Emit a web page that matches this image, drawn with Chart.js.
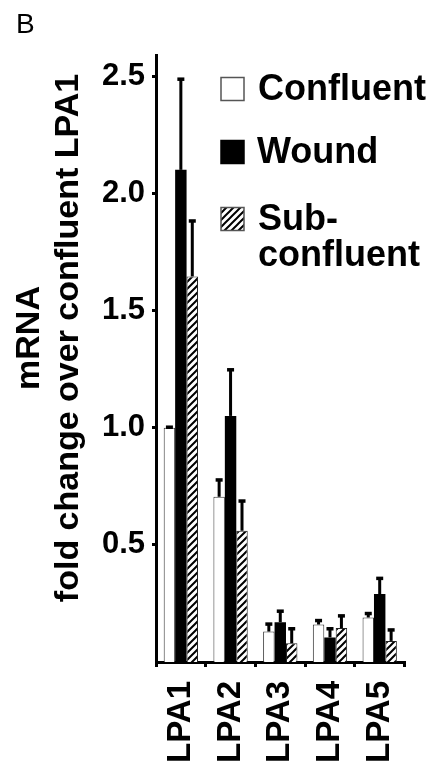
<!DOCTYPE html>
<html>
<head>
<meta charset="utf-8">
<script src="https://cdn.jsdelivr.net/npm/chart.js@4.4.1/dist/chart.umd.min.js"></script>
<style>
  body { margin: 0; background: #fff; }
  #wrap { position: relative; width: 435px; height: 772px; }
</style>
</head>
<body>
<div id="wrap"><canvas id="mrnaChart"></canvas></div>
<script>
// data
const categories = ['LPA1', 'LPA2', 'LPA3', 'LPA4', 'LPA5'];
const confluent = [1.0, 0.705, 0.13, 0.16, 0.19];
const confluentErr = [0.005, 0.075, 0.035, 0.02, 0.02];
const wound = [2.10, 1.05, 0.17, 0.105, 0.29];
const woundErr = [0.39, 0.20, 0.05, 0.04, 0.07];
const subConfluent = [1.645, 0.56, 0.08, 0.145, 0.09];
const subConfluentErr = [0.24, 0.13, 0.065, 0.055, 0.05];
const yTicks = [0.5, 1.0, 1.5, 2.0, 2.5];
const seriesLabels = ['Confluent', 'Wound', 'Sub-\nconfluent'];

const FONT = '"Liberation Sans", Arial, Helvetica, sans-serif';

// diagonal hatch for sub-confluent bars
function makeHatch() {
  const c = document.createElement('canvas');
  c.width = 7; c.height = 7;
  const g = c.getContext('2d');
  g.fillStyle = '#fff';
  g.fillRect(0, 0, 7, 7);
  g.strokeStyle = '#000';
  g.lineWidth = 2;
  g.beginPath();
  g.moveTo(-1, 8); g.lineTo(8, -1);
  g.moveTo(-2, 2); g.lineTo(2, -2);
  g.moveTo(5, 9); g.lineTo(9, 5);
  g.stroke();
  return g.createPattern(c, 'repeat');
}
const hatch = makeHatch();

// upper error bars
const errorBars = {
  id: 'errorBars',
  afterDatasetsDraw(chart) {
    const ctx = chart.ctx;
    const y = chart.scales.y;
    const errs = [confluentErr, woundErr, subConfluentErr];
    ctx.save();
    ctx.fillStyle = '#000';
    chart.data.datasets.forEach((ds, i) => {
      chart.getDatasetMeta(i).data.forEach((bar, j) => {
        const v = ds.data[j];
        const yTop = y.getPixelForValue(v);
        const yErr = y.getPixelForValue(v + errs[i][j]);
        ctx.fillRect(bar.x - 1.5, yErr, 3, yTop - yErr);
        ctx.fillRect(bar.x - 3.5, yErr - 1, 7, 3.5);
      });
    });
    ctx.restore();
  }
};

// legend, panel letter and y title
const extras = {
  id: 'extras',
  afterDraw(chart) {
    const ctx = chart.ctx;
    ctx.save();
    ctx.fillStyle = '#000';
    ctx.font = '28px ' + FONT;
    ctx.textBaseline = 'alphabetic';
    ctx.textAlign = 'left';
    ctx.fillText('B', 16, 33);

    // y title
    ctx.font = 'bold 34px ' + FONT;
    ctx.textAlign = 'center';
    ctx.textBaseline = 'middle';
    ctx.translate(0, 338);
    ctx.rotate(-Math.PI / 2);
    ctx.fillText('mRNA', 0, 30);
    ctx.fillText('fold change over confluent LPA1', 0, 69);
    ctx.setTransform(1, 0, 0, 1, 0, 0);

    // legend
    const rows = [89, 152, 219];
    ctx.font = 'bold 36px ' + FONT;
    ctx.textAlign = 'left';
    chart.data.datasets.forEach((ds, i) => {
      const cy = rows[i];
      ctx.fillStyle = ds.backgroundColor;
      ctx.fillRect(221, cy - 11.5, 23, 23);
      ctx.strokeStyle = i === 1 ? '#000' : '#555';
      ctx.lineWidth = 1.5;
      ctx.strokeRect(221, cy - 11.5, 23, 23);
      ctx.fillStyle = '#000';
      seriesLabels[i].split('\n').forEach((line, k) => {
        ctx.fillText(line, i === 1 ? 257 : 258, cy + 1 + k * 36);
      });
    });
    ctx.restore();
  }
};

const ctx = document.getElementById('mrnaChart').getContext('2d');
const mrnaChart = new Chart(ctx, {
  type: 'bar',
  data: {
    labels: categories,
    datasets: [
      {
        label: 'Confluent',
        data: confluent,
        backgroundColor: '#fff',
        borderColor: '#333',
        borderWidth: 1
      },
      {
        label: 'Wound',
        data: wound,
        backgroundColor: '#000',
        borderColor: '#000',
        borderWidth: 0
      },
      {
        label: 'Sub-confluent',
        data: subConfluent,
        backgroundColor: hatch,
        borderColor: '#222',
        borderWidth: 1
      }
    ]
  },
  options: {
    responsive: true,
    maintainAspectRatio: false,
    animation: false,
    layout: { padding: { top: 55, right: 17, left: 0, bottom: 0 } },
    datasets: {
      bar: { categoryPercentage: 0.69, barPercentage: 1.0, borderSkipped: 'bottom' }
    },
    plugins: {
      legend: { display: false },
      tooltip: { enabled: false }
    },
    scales: {
      x: {
        grid: { drawOnChartArea: false, color: '#000', lineWidth: 3, tickLength: 5 },
        border: { color: '#000', width: 3 },
        ticks: {
          color: '#000',
          font: { family: FONT, size: 33, weight: 'bold' },
          minRotation: 90,
          maxRotation: 90,
          autoSkip: false,
          padding: 14
        },
        afterFit(scale) { scale.height = 110; }
      },
      y: {
        min: 0,
        max: 2.59,
        grid: { drawOnChartArea: false, color: '#000', lineWidth: 3, tickLength: 4 },
        border: { color: '#000', width: 3 },
        ticks: {
          color: '#000',
          font: { family: FONT, size: 31, weight: 'bold' },
          padding: 7,
          callback: v => v.toFixed(1)
        },
        afterBuildTicks(scale) {
          scale.ticks = yTicks.map(v => ({ value: v }));
        },
        afterFit(scale) { scale.width = 156; }
      }
    }
  },
  plugins: [errorBars, extras]
});
</script>
</body>
</html>
